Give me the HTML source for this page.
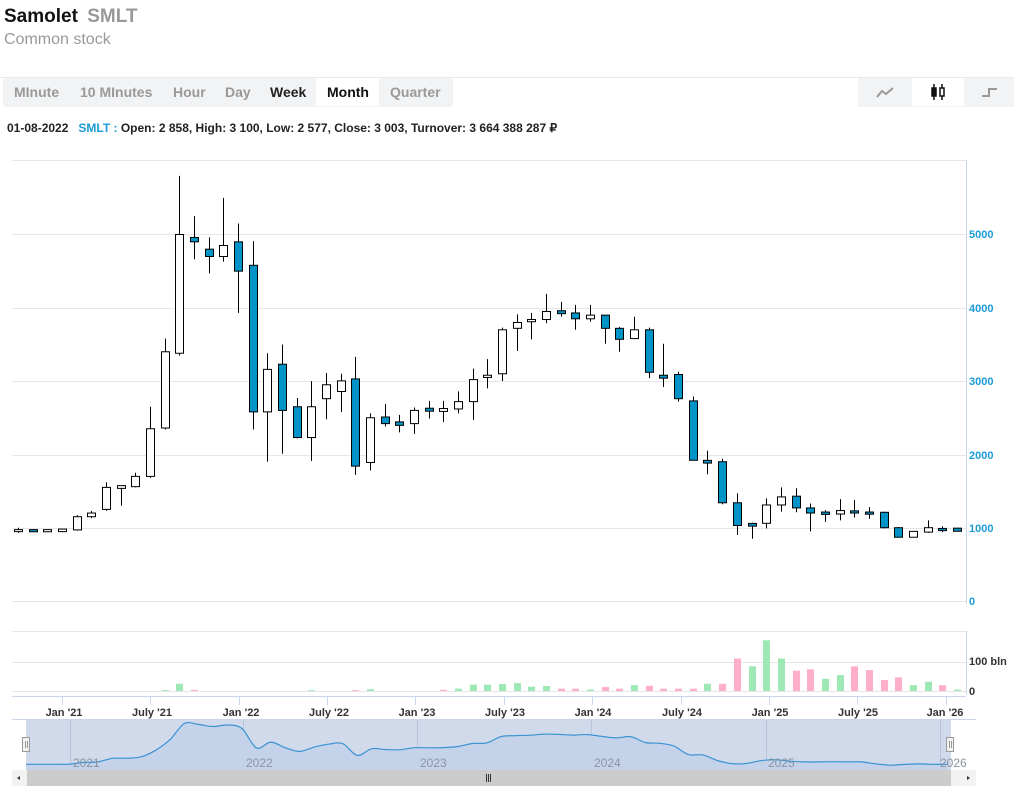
<!DOCTYPE html>
<html><head><meta charset="utf-8"><style>
*{margin:0;padding:0;box-sizing:border-box}
body{width:1014px;height:794px;background:#fff;font-family:"Liberation Sans",Arial,sans-serif;position:relative;overflow:hidden}
.a{position:absolute;white-space:nowrap}
</style></head><body>
<div class="a" style="left:4px;top:6px;font-size:19px;font-weight:bold;color:#111">Samolet <span style="color:#999;margin-left:4px">SMLT</span></div>
<div class="a" style="left:4px;top:31px;font-size:16px;color:#999">Common stock</div>
<div class="a" style="left:0;top:77px;width:1014px;height:1px;background:#e8e8e8"></div>
<div class="a" style="left:3px;top:78px;width:450px;height:29px;background:#f2f3f5;border-radius:0 0 3px 3px"></div>
<div class="a" style="left:316px;top:78px;width:63px;height:28px;background:#fff"></div>
<div class="a" style="top:84px;left:14px;font-size:14px;font-weight:bold;color:#999">MInute</div>
<div class="a" style="top:84px;left:80px;font-size:14px;font-weight:bold;color:#999">10 MInutes</div>
<div class="a" style="top:84px;left:173px;font-size:14px;font-weight:bold;color:#999">Hour</div>
<div class="a" style="top:84px;left:225px;font-size:14px;font-weight:bold;color:#999">Day</div>
<div class="a" style="top:84px;left:270px;font-size:14px;font-weight:bold;color:#222">Week</div>
<div class="a" style="top:84px;left:327px;font-size:14px;font-weight:bold;color:#111">Month</div>
<div class="a" style="top:84px;left:390px;font-size:14px;font-weight:bold;color:#999">Quarter</div>
<div class="a" style="left:858px;top:78px;width:156px;height:29px;background:#f2f3f5"></div>
<div class="a" style="left:912px;top:78px;width:52px;height:28px;background:#fff"></div>
<svg class="a" style="left:858px;top:78px" width="156" height="29">
<polyline points="19,19 24,13 28,16 35,10" fill="none" stroke="#999" stroke-width="2"/>
<g stroke="#111" stroke-width="1.5" fill="none"><line x1="76" y1="6" x2="76" y2="22"/><line x1="84" y1="6" x2="84" y2="22"/><rect x="74" y="10" width="4" height="8" fill="#111"/><rect x="82" y="10" width="4" height="8" fill="#fff"/></g>
<polyline points="124,18 131,18 131,11 139,11" fill="none" stroke="#999" stroke-width="2"/>
</svg>
<div class="a" style="left:7px;top:121px;font-size:12px;font-weight:bold;color:#222">01-08-2022&nbsp;&nbsp;&nbsp;<span style="color:#1a9bd7">SMLT :</span> Open: 2 858, High: 3 100, Low: 2 577, Close: 3 003, Turnover: 3 664 388 287 ₽</div>

<svg class="a" style="left:0;top:0" width="1014" height="794" id="s">
<g stroke="#e6e6e6" stroke-width="1">
<line x1="12" y1="160.5" x2="966" y2="160.5"/><line x1="12" y1="234.5" x2="966" y2="234.5"/><line x1="12" y1="308.5" x2="966" y2="308.5"/><line x1="12" y1="381.5" x2="966" y2="381.5"/><line x1="12" y1="455.5" x2="966" y2="455.5"/><line x1="12" y1="528.5" x2="966" y2="528.5"/><line x1="12" y1="601.5" x2="966" y2="601.5"/>
<line x1="12" y1="631.5" x2="966" y2="631.5"/><line x1="12" y1="662.5" x2="966" y2="662.5"/><line x1="12" y1="691.5" x2="966" y2="691.5"/>
</g>
<line x1="966.5" y1="160" x2="966.5" y2="604" stroke="#ccd6eb"/>
<line x1="966.5" y1="631" x2="966.5" y2="694" stroke="#ccd6eb"/>
<line x1="12" y1="696.5" x2="966" y2="696.5" stroke="#ccd6eb"/>
<g stroke="#ccd6eb"><line x1="62.5" y1="697" x2="62.5" y2="705"/><line x1="150.5" y1="697" x2="150.5" y2="705"/><line x1="239.5" y1="697" x2="239.5" y2="705"/><line x1="327.5" y1="697" x2="327.5" y2="705"/><line x1="415.5" y1="697" x2="415.5" y2="705"/><line x1="504.5" y1="697" x2="504.5" y2="705"/><line x1="592.5" y1="697" x2="592.5" y2="705"/><line x1="681.5" y1="697" x2="681.5" y2="705"/><line x1="769.5" y1="697" x2="769.5" y2="705"/><line x1="857.5" y1="697" x2="857.5" y2="705"/><line x1="946.5" y1="697" x2="946.5" y2="705"/></g>
<g font-family="Liberation Sans,Arial,sans-serif" font-size="11" font-weight="bold" fill="#1a9bd7">
<text x="969" y="238">5000</text><text x="969" y="312">4000</text><text x="969" y="385">3000</text><text x="969" y="459">2000</text><text x="969" y="532">1000</text><text x="969" y="605">0</text>
</g>
<g font-family="Liberation Sans,Arial,sans-serif" font-size="11" font-weight="bold" fill="#333">
<text x="969" y="665">100 bln</text><text x="969" y="695">0</text>
</g>
<g font-family="Liberation Sans,Arial,sans-serif" font-size="11" font-weight="bold" fill="#333" text-anchor="middle">
<text x="64" y="716">Jan '21</text><text x="152" y="716">July '21</text><text x="241" y="716">Jan '22</text><text x="329" y="716">July '22</text><text x="417" y="716">Jan '23</text><text x="505" y="716">July '23</text><text x="593" y="716">Jan '24</text><text x="682" y="716">July '24</text><text x="770" y="716">Jan '25</text><text x="858" y="716">July '25</text><text x="945" y="716">Jan '26</text>
</g>
<g id="vol"></g><g id="cnd"></g>
<rect x="26" y="720" width="925" height="50" fill="#d1daeb"/>
<g stroke="#b8c4dc"><line x1="70.5" y1="720" x2="70.5" y2="770"/><line x1="243.5" y1="720" x2="243.5" y2="770"/><line x1="417.5" y1="720" x2="417.5" y2="770"/><line x1="591.5" y1="720" x2="591.5" y2="770"/><line x1="766.5" y1="720" x2="766.5" y2="770"/><line x1="940.5" y1="720" x2="940.5" y2="770"/></g>
<line x1="12" y1="719.5" x2="976" y2="719.5" stroke="#ccd6eb"/>
<path id="nf" fill="#c5d3ea" stroke="none"/>
<path id="nl" fill="none" stroke="#3a93d2" stroke-width="1.2"/>
<g font-family="Liberation Sans,Arial,sans-serif" font-size="12" fill="#8a93a3">
<text x="73" y="767">2021</text><text x="246" y="767">2022</text><text x="420" y="767">2023</text><text x="594" y="767">2024</text><text x="768" y="767">2025</text><text x="940" y="767">2026</text>
</g>
<rect x="12" y="770" width="964" height="16" fill="#f2f2f2"/>
<rect x="27" y="770" width="924" height="16" fill="#cccccc"/>
<path d="M20,776 L17,778 L20,780Z M967,776 L970,778 L967,780Z" fill="#333"/>
<g stroke="#333"><line x1="486.5" y1="774" x2="486.5" y2="782"/><line x1="488.5" y1="774" x2="488.5" y2="782"/><line x1="490.5" y1="774" x2="490.5" y2="782"/></g>
<g fill="#f2f2f2" stroke="#999"><rect x="22.5" y="737.5" width="7" height="14"/><rect x="946.5" y="737.5" width="7" height="14"/></g>
<g stroke="#999"><line x1="25.5" y1="741" x2="25.5" y2="748"/><line x1="27.5" y1="741" x2="27.5" y2="748"/><line x1="949.5" y1="741" x2="949.5" y2="748"/><line x1="951.5" y1="741" x2="951.5" y2="748"/></g>
</svg>
<script>
var D=[[960,1000,930,960],[960,975,945,958],[958,970,945,960],[960,975,940,968],[970,1170,960,1150],[1150,1230,1130,1200],[1250,1620,1230,1550],[1550,1570,1300,1560],[1560,1750,1550,1700],[1700,2650,1680,2350],[2360,3580,2340,3400],[3380,5800,3350,5000],[4960,5250,4660,4900],[4800,4960,4470,4700],[4700,5500,4630,4850],[4900,5150,3930,4500],[4580,4910,2340,2580],[2580,3380,1900,3160],[3230,3500,2010,2600],[2650,2770,2220,2230],[2230,3000,1910,2650],[2760,3110,2480,2950],[2858,3100,2577,3003],[3030,3330,1720,1840],[1890,2560,1780,2500],[2510,2690,2380,2420],[2430,2540,2300,2410],[2420,2640,2280,2600],[2630,2730,2490,2590],[2600,2730,2440,2612],[2620,2860,2560,2720],[2720,3170,2470,3020],[3050,3300,2900,3080],[3100,3730,3000,3700],[3720,3910,3410,3800],[3810,3930,3570,3840],[3840,4190,3790,3950],[3960,4080,3880,3920],[3930,4040,3700,3850],[3850,4040,3810,3900],[3900,3900,3510,3720],[3720,3740,3400,3570],[3580,3880,3580,3700],[3700,3730,3040,3120],[3080,3510,2920,3040],[3090,3130,2720,2760],[2730,2790,1920,1920],[1905,2050,1730,1895],[1900,1940,1320,1340],[1340,1470,900,1030],[1045,1070,850,1035],[1060,1400,990,1310],[1310,1550,1220,1420],[1430,1540,1210,1270],[1270,1330,950,1200],[1200,1240,1080,1195],[1200,1390,1100,1220],[1230,1380,1140,1200],[1200,1280,1120,1198],[1210,1220,990,1000],[1000,1010,870,870],[870,950,870,950],[940,1100,930,1000],[990,1020,940,960],[980,1000,950,965]];
var V={29:[4,0],30:[8,1],31:[22,1],32:[22,1],33:[24,1],34:[27,1],35:[15,1],36:[17,1],37:[8,0],38:[8,0],39:[5,1],40:[14,0],41:[8,0],42:[20,1],43:[18,0],44:[8,0],45:[8,0],46:[8,0],47:[25,1],48:[25,0],49:[112,0],50:[85,1],51:[175,1],52:[112,1],53:[70,0],54:[75,0],55:[42,1],56:[55,1],57:[85,0],58:[72,0],59:[38,0],60:[47,0],61:[20,1],62:[32,1],63:[20,0],64:[5,1],10:[3,1],11:[25,1],12:[4,0],20:[3,1],23:[3,0],24:[6,1]};
function y(v){return 601-v*0.0733}
var c='',vb='',pts=[];
D.forEach(function(d,i){var x=Math.round(18+14.67*i)+.5;var o=d[0],h=d[1],l=d[2],cl=d[3];
c+='<line x1="'+x+'" x2="'+x+'" y1="'+y(h)+'" y2="'+y(l)+'" stroke="#000"/>';
var t=y(Math.max(o,cl)),b=y(Math.min(o,cl));if(b-t<1.5){t-=1;b+=1}
c+='<rect x="'+(x-4)+'" y="'+t+'" width="8" height="'+(b-t)+'" fill="'+(cl<o?'#0093c7':'#fff')+'" stroke="#000"/>';
var vv=V[i];if(vv){var hh=vv[0]*0.29;vb+='<rect x="'+(x-3.5)+'" y="'+(691-hh)+'" width="7" height="'+hh+'" fill="'+(vv[1]?'#9de8b4':'#ffafc9')+'"/>';}
pts.push([26+14.4*i,774-cl*0.0101]);});
document.getElementById('cnd').innerHTML=c;document.getElementById('vol').innerHTML=vb;
function f(n){return n.toFixed(1)}
var p='M'+f(pts[0][0])+','+f(pts[0][1]);
for(var i=0;i<pts.length-1;i++){var p0=pts[Math.max(0,i-1)],p1=pts[i],p2=pts[i+1],p3=pts[Math.min(pts.length-1,i+2)];
p+=' C'+f(p1[0]+(p2[0]-p0[0])/6)+','+f(p1[1]+(p2[1]-p0[1])/6)+' '+f(p2[0]-(p3[0]-p1[0])/6)+','+f(p2[1]-(p3[1]-p1[1])/6)+' '+f(p2[0])+','+f(p2[1]);}
document.getElementById('nl').setAttribute('d',p);
document.getElementById('nf').setAttribute('d',p+' L'+pts[pts.length-1][0]+',770 L26,770Z');
</script>
</body></html>
